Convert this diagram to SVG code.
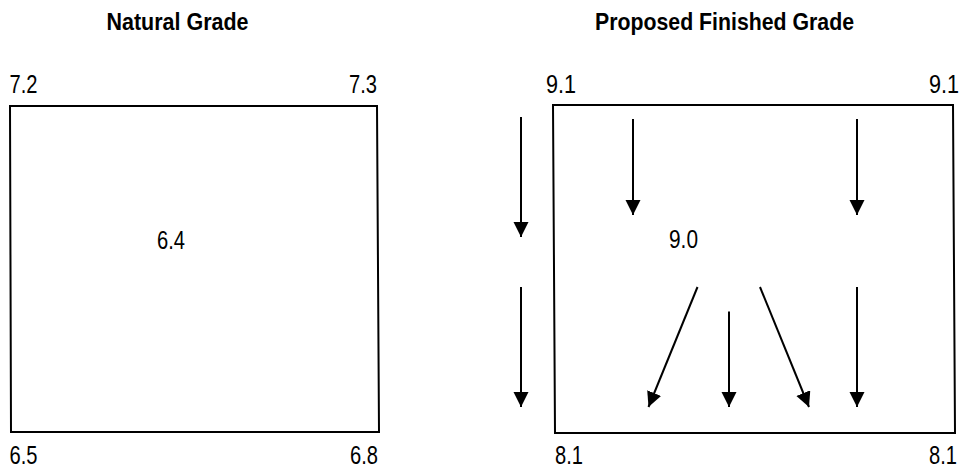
<svg xmlns="http://www.w3.org/2000/svg" width="962" height="469" viewBox="0 0 962 469">
<style>
.title{font-family:"Liberation Sans Narrow","Liberation Sans",Arial,sans-serif;font-weight:bold;font-size:24px;fill:#000}
.num{font-family:"Liberation Sans Narrow","Liberation Sans",Arial,sans-serif;font-size:25px;fill:#000}
.box{fill:#fff;stroke:#000;stroke-width:2}
.arr{stroke:#000;stroke-width:2;fill:none;marker-end:url(#ah)}
</style>
<defs>
<marker id="ah" markerUnits="userSpaceOnUse" markerWidth="16" markerHeight="16" refX="15" refY="7.5" orient="auto">
<path d="M0,0 L15,7.5 L0,15 z" fill="#000"/>
</marker>
</defs>
<rect width="962" height="469" fill="#fff"/>
<g id="natural">
<text class="title" x="177.5" y="30" text-anchor="middle" textLength="142" lengthAdjust="spacingAndGlyphs">Natural Grade</text>
<polygon class="box" points="10,106 377,106 379,432 11,432"/>
<text class="num" x="9.5" y="93" textLength="28" lengthAdjust="spacingAndGlyphs">7.2</text>
<text class="num" x="349" y="93" textLength="28" lengthAdjust="spacingAndGlyphs">7.3</text>
<text class="num" x="157" y="249" textLength="28" lengthAdjust="spacingAndGlyphs">6.4</text>
<text class="num" x="9.5" y="464" textLength="28" lengthAdjust="spacingAndGlyphs">6.5</text>
<text class="num" x="350" y="464" textLength="28" lengthAdjust="spacingAndGlyphs">6.8</text>
</g>
<g id="proposed">
<text class="title" x="724.5" y="30" text-anchor="middle" textLength="259" lengthAdjust="spacingAndGlyphs">Proposed Finished Grade</text>
<polygon class="box" points="553,105 953,105 955,433 555,433"/>
<text class="num" x="546" y="93" textLength="30" lengthAdjust="spacingAndGlyphs">9.1</text>
<text class="num" x="929" y="93" textLength="30" lengthAdjust="spacingAndGlyphs">9.1</text>
<text class="num" x="669" y="248" textLength="29" lengthAdjust="spacingAndGlyphs">9.0</text>
<text class="num" x="555" y="464" textLength="28" lengthAdjust="spacingAndGlyphs">8.1</text>
<text class="num" x="929" y="464" textLength="28" lengthAdjust="spacingAndGlyphs">8.1</text>
</g>
<g id="connectors">
<line class="arr" x1="521" y1="117" x2="521" y2="237"/>
<line class="arr" x1="521" y1="287" x2="521" y2="407"/>
<line class="arr" x1="633" y1="119" x2="633" y2="215"/>
<line class="arr" x1="857" y1="119" x2="857" y2="215"/>
<line class="arr" x1="697.5" y1="287" x2="648.5" y2="407"/>
<line class="arr" x1="729" y1="311.5" x2="729" y2="407"/>
<line class="arr" x1="760" y1="287" x2="809" y2="407"/>
<line class="arr" x1="857" y1="287" x2="857" y2="407"/>
</g>
</svg>
